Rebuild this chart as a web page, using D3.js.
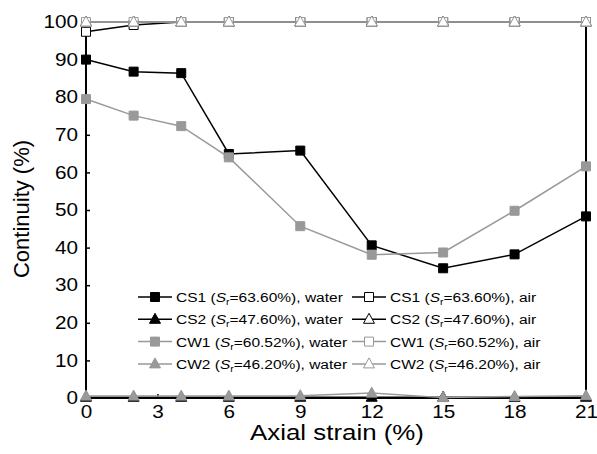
<!DOCTYPE html>
<html>
<head>
<meta charset="utf-8">
<script src="https://cdn.jsdelivr.net/npm/d3@7"></script>
<style>
  body { margin: 0; background: #fff; }
  text { font-family: "Liberation Sans", Arial, sans-serif; fill: #000; }
</style>
</head>
<body>
<script>
// Data
var strain = [0, 2, 4, 6, 9, 12, 15, 18, 21];

var cs1Water = [90, 86.8, 86.4, 64.9, 65.8, 40.6, 34.5, 38.2, 48.3];
var cs2Water = [0.2, 0.2, 0.2, 0.2, 0.2, 0.2, 0.2, 0.2, 0.2];
var cw1Water = [79.5, 75.1, 72.3, 64.0, 45.7, 38.1, 38.7, 49.8, 61.6];
var cw2Water = [0.5, 0.5, 0.5, 0.5, 0.6, 1.3, 0.1, 0.4, 0.6];
var cs1Air = [97.4, 99.2, 100, 100, 100, 100, 100, 100, 100];
var cs2Air = [100, 100, 100, 100, 100, 100, 100, 100, 100];
var cw1Air = [100, 100, 100, 100, 100, 100, 100, 100, 100];
var cw2Air = [100, 100, 100, 100, 100, 100, 100, 100, 100];

var xTicks = [0, 3, 6, 9, 12, 15, 18, 21];
var yTicks = [0, 10, 20, 30, 40, 50, 60, 70, 80, 90, 100];

var seriesNames = ["CS1", "CS2", "CW1", "CW2", "CS1", "CS2", "CW1", "CW2"];
var seriesSr = ["63.60%", "47.60%", "60.52%", "46.20%", "63.60%", "47.60%", "60.52%", "46.20%"];
var seriesFluid = ["water", "water", "water", "water", "air", "air", "air", "air"];
var seriesValues = [cs1Water, cs2Water, cw1Water, cw2Water, cs1Air, cs2Air, cw1Air, cw2Air];

var black = "#000", grey = "#999";
var lineColor = [black, black, grey, grey, black, black, grey, grey];
var markerFill = [black, black, grey, grey, "#fff", "#fff", "#fff", "#fff"];
var markerShape = ["square", "triangle", "square", "triangle", "square", "triangle", "square", "triangle"];

// the original picture is a little stretched sideways
var stretch = 1.15;

//Define Margin
var margin = {left: 86, right: 11, top: 22, bottom: 56},
    width = 597 - margin.left - margin.right,
    height = 454 - margin.top - margin.bottom;

var svg = d3.select("body").append("svg")
    .attr("width", 597)
    .attr("height", 454)
    .append("g")
    .attr("transform", "translate(" + margin.left + "," + margin.top + ")");

var scaleX = d3.scaleLinear().domain([0, 21]).range([0, width]);
var scaleY = d3.scaleLinear().domain([0, 100]).range([height, 0]);

function markerPath(shape) {
    if (shape === "square") {
        return "M-4.5,-4.5H4.5V4.5H-4.5Z";
    }
    return "M0,-6L5.5,4L-5.5,4Z";
}

// axes: left, bottom, right (no top)
var yAxis = d3.axisLeft(scaleY).tickValues(yTicks).tickSize(-4).tickPadding(7);
var xAxis = d3.axisBottom(scaleX).tickValues(xTicks).tickSize(-4).tickPadding(7);

var gy = svg.append("g").call(yAxis);
var gx = svg.append("g").attr("transform", "translate(0," + height + ")").call(xAxis);
[gx, gy].forEach(function (g) {
    g.select(".domain").attr("stroke", "#000").attr("stroke-width", 2);
    g.selectAll(".tick line").attr("stroke", "#000").attr("stroke-width", 1.5);
    g.selectAll(".tick text").style("font-size", "18px")
        .style("font-family", "'Liberation Sans', Arial, sans-serif")
        .attr("transform", "scale(" + stretch + ",1)");
});
gy.selectAll(".tick text").attr("x", -8 / stretch);
gy.select(".domain").attr("d", "M0," + height + "V0");
gx.select(".domain").attr("d", "M0,0H" + width);
svg.append("line")
    .attr("x1", width).attr("x2", width)
    .attr("y1", 0).attr("y2", height)
    .attr("stroke", "#000").attr("stroke-width", 2);

// axis titles
svg.append("text")
    .attr("transform", "translate(" + (width / 2 + 1) + "," + (height + 42) + ") scale(" + stretch + ",1)")
    .attr("text-anchor", "middle")
    .style("font-size", "22.5px")
    .text("Axial strain (%)");
svg.append("text")
    .attr("transform", "translate(" + (-57) + "," + (height / 2 - 1) + ") rotate(-90)")
    .attr("text-anchor", "middle")
    .style("font-size", "22px")
    .text("Continuity (%)");

var line = d3.line()
    .x(function (d, i) { return scaleX(strain[i]); })
    .y(function (d) { return scaleY(d); });

seriesValues.forEach(function (vals, s) {
    var g = svg.append("g");
    g.append("path")
        .attr("d", line(vals))
        .attr("fill", "none")
        .attr("stroke", lineColor[s])
        .attr("stroke-width", 1.5);
    g.selectAll("path.m")
        .data(vals)
        .enter().append("path")
        .attr("class", "m")
        .attr("d", markerPath(markerShape[s]))
        .attr("transform", function (d, i) {
            return "translate(" + scaleX(strain[i]) + "," + scaleY(d) + ")";
        })
        .attr("fill", markerFill[s])
        .attr("stroke", lineColor[s])
        .attr("stroke-width", 1);
});

// legend, two columns of four
var legend = svg.append("g").attr("transform", "translate(52,275)");
seriesValues.forEach(function (vals, s) {
    var col = Math.floor(s / 4), row = s % 4;
    var g = legend.append("g")
        .attr("transform", "translate(" + (col * 214) + "," + (row * 22.3) + ")");
    g.append("line")
        .attr("x1", 0).attr("x2", 34)
        .attr("stroke", lineColor[s]).attr("stroke-width", 1.5);
    g.append("path")
        .attr("d", markerPath(markerShape[s]))
        .attr("transform", "translate(17,0)")
        .attr("fill", markerFill[s])
        .attr("stroke", lineColor[s]);
    var t = g.append("text")
        .attr("transform", "translate(38,5) scale(" + stretch + ",1)")
        .style("font-size", "13.5px");
    t.append("tspan").text(seriesNames[s] + " (");
    t.append("tspan").style("font-style", "italic").text("S");
    t.append("tspan").attr("dy", 3).style("font-size", "9px").text("r");
    t.append("tspan").attr("dy", -3).text("=" + seriesSr[s] + "), " + seriesFluid[s]);
});
</script>
</body>
</html>
